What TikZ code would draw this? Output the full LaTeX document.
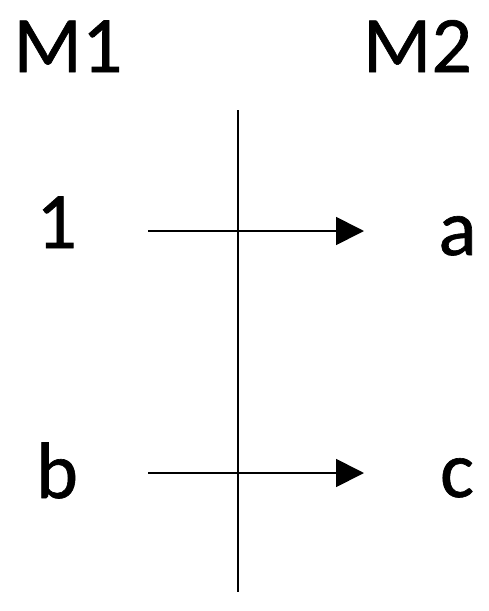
\documentclass[tikz,border=0pt]{standalone}
\usepackage{fontspec}
\setmainfont[FakeBold=0.8]{Carlito}
\usetikzlibrary{arrows.meta}
\begin{document}
\begin{tikzpicture}[x=1pt,y=-1pt,
  lbl/.style={font=\fontsize{80}{90}\selectfont, inner sep=0pt, anchor=base},
  ln/.style={line width=1.8pt},
  arr/.style={ln, -{Triangle[length=28pt,width=28pt]}}]
\useasboundingbox (0,0) rectangle (489,611);
\node[lbl] (m1) at (68,72) {M1};
\node[lbl] (m2) at (417.5,72) {M2};
\node[lbl] (one) at (56.5,248) {1};
\node[lbl] (a) at (457.5,255) {a};
\node[lbl] (b) at (57,498) {b};
\node[lbl] (c) at (457,497) {c};
\coordinate (top) at (238,110);
\coordinate (bot) at (238,592);
\coordinate (s1) at (148,231);
\coordinate (e1) at (364,231);
\coordinate (s2) at (148,473);
\coordinate (e2) at (364,473);
\draw[ln] (top) -- (bot);
\draw[arr] (s1) -- (e1);
\draw[arr] (s2) -- (e2);
\end{tikzpicture}
\end{document}
